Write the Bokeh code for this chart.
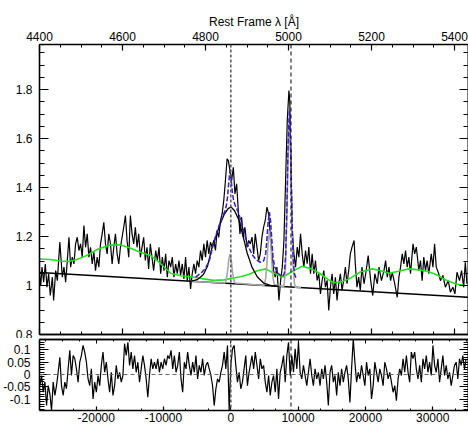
import numpy as np
from bokeh.plotting import figure
from bokeh.models import Range1d, LinearAxis, Span, FixedTicker
from bokeh.layouts import column
from bokeh.embed import file_html
from bokeh.resources import INLINE

FONT = "Liberation Sans"
C_KMS = 299792.458
V_REF = 4861.0
W0, W1 = 4400.0, 5433.7
F0, F1 = 0.8, 1.984
R0, R1 = -0.146, 0.142

# ---------------- data ----------------
spec_wave = [4400, 4403, 4406, 4410, 4414, 4418, 4422, 4426, 4431, 4434, 4439, 4443, 4449, 4455, 4459, 4463,
             4467, 4471, 4475, 4479, 4483, 4487, 4491, 4495, 4499, 4503, 4507, 4511, 4515, 4519, 4523, 4527,
             4531, 4535, 4539, 4543, 4547, 4551, 4555, 4559, 4563, 4567, 4571, 4575, 4579, 4583, 4587, 4591,
             4595, 4599, 4603, 4607, 4611, 4615, 4619, 4623, 4627, 4631, 4635, 4639, 4643, 4647, 4651, 4655,
             4659, 4663, 4667, 4671, 4675, 4680, 4684, 4688, 4692, 4696, 4700, 4704, 4708, 4712, 4716, 4720,
             4724, 4728, 4732, 4736, 4740, 4744, 4748, 4752, 4756, 4760, 4764, 4768, 4772, 4776, 4780, 4784,
             4788, 4792, 4796, 4800, 4804, 4808, 4812, 4816, 4820, 4824, 4828, 4832, 4836, 4840, 4844, 4848,
             4852, 4855, 4859, 4863, 4867, 4871, 4875, 4879, 4883, 4887, 4891, 4895, 4900, 4904,
             4908, 4912, 4916, 4920, 4924, 4928, 4932, 4936, 4940, 4944, 4948, 4952, 4956, 4960, 4964, 4968,
             4972, 4977, 4981, 4985, 4989, 4993, 4997, 5001, 5003, 5006, 5009, 5013, 5017, 5021, 5025, 5029,
             5033, 5037, 5041, 5045, 5049, 5053, 5057, 5061, 5065, 5069, 5073, 5077, 5081, 5085, 5089, 5093,
             5097, 5101, 5105, 5109, 5113, 5117, 5121, 5125, 5129, 5133, 5137, 5141, 5145, 5149, 5153, 5158,
             5161, 5165, 5169, 5173, 5177, 5182, 5186, 5192, 5198, 5203, 5208, 5214, 5218, 5224, 5230, 5234,
             5238, 5242, 5246, 5250, 5256, 5262, 5266, 5270, 5274, 5278, 5282, 5286, 5290, 5294, 5300, 5304,
             5308, 5314, 5318, 5322, 5326, 5330, 5334, 5338, 5344, 5348, 5352, 5356, 5362, 5366, 5372, 5378,
             5385, 5390, 5396, 5401, 5406, 5412, 5417, 5422, 5426, 5430]
spec_flux = [1.048, 1.000, 1.075, 1.014, 1.088, 0.993, 1.048, 0.959, 1.034, 0.939, 1.061, 1.020, 1.177, 1.034, 1.075, 1.014,
             1.102, 1.197, 1.075, 1.116, 1.088, 1.170, 1.197, 1.143, 1.170, 1.116, 1.245, 1.156, 1.211, 1.116, 1.156, 1.088,
             1.136, 1.061, 1.116, 1.075, 1.170, 1.211, 1.258, 1.170, 1.129, 1.211, 1.170, 1.088, 1.156, 1.211, 1.129, 1.088,
             1.156, 1.197, 1.238, 1.286, 1.184, 1.116, 1.286, 1.211, 1.170, 1.238, 1.156, 1.211, 1.116, 1.156, 1.197, 1.102,
             1.156, 1.068, 1.170, 1.116, 1.061, 1.143, 1.102, 1.156, 1.048, 1.116, 1.061, 1.129, 1.034, 1.102, 1.075, 1.116,
             1.034, 1.088, 1.048, 1.102, 1.041, 1.088, 1.027, 1.116, 1.020, 1.075, 0.986, 1.048, 1.088, 1.048, 1.102, 1.075,
             1.143, 1.102, 1.170, 1.116, 1.184, 1.129, 1.177, 1.156, 1.184, 1.143, 1.224, 1.197, 1.265, 1.292, 1.347, 1.428,
             1.517, 1.510, 1.469, 1.428, 1.483, 1.374, 1.415, 1.306, 1.211, 1.279, 1.197, 1.238, 1.156, 1.184,
             1.170, 1.198, 1.129, 1.211, 1.157, 1.102, 1.129, 1.198, 1.238, 1.266, 1.320, 1.293, 1.211, 1.129, 1.061, 1.034,
             1.075, 0.939, 1.021, 1.075, 1.184, 1.429, 1.674, 1.796, 1.755, 1.497, 1.225, 1.129, 1.075, 1.157, 1.116, 1.211,
             1.129, 1.075, 1.143, 1.089, 1.157, 1.048, 1.129, 1.048, 1.102, 1.021, 1.048, 0.966, 1.021, 1.061, 0.993, 1.021,
             0.898, 0.993, 1.048, 0.966, 1.034, 0.939, 1.007, 1.048, 0.980, 1.021, 1.075, 1.007, 1.061, 1.129, 1.157, 1.184,
             1.088, 0.993, 1.034, 0.980, 1.075, 1.007, 1.048, 1.122, 1.020, 0.959, 1.048, 1.007, 1.075, 1.020, 1.061, 1.102,
             1.034, 1.075, 1.020, 1.054, 1.007, 0.952, 1.034, 1.075, 1.129, 1.088, 1.143, 1.075, 1.116, 1.048, 1.170, 1.129,
             1.157, 1.061, 1.102, 1.020, 1.116, 1.061, 1.102, 1.048, 1.129, 1.075, 1.170, 1.075, 1.048, 1.020, 1.041, 0.993,
             1.020, 0.973, 0.993, 0.966, 1.054, 1.020, 1.061, 0.993, 1.095, 1.007]

cont_wave = [4400, 5434]
cont_flux = [1.053, 0.952]

feii_wave = [4400, 4425, 4450, 4470, 4490, 4513, 4540, 4569, 4593, 4615, 4640, 4667, 4690, 4716, 4740, 4770,
             4795, 4820, 4845, 4865, 4885, 4905, 4925, 4945, 4965, 4987, 5010, 5033, 5055, 5075, 5095, 5110,
             5130, 5150, 5173, 5202, 5222, 5242, 5265, 5290, 5315, 5338, 5355, 5370, 5385, 5402, 5420, 5434]
feii_flux = [1.108, 1.106, 1.100, 1.098, 1.106, 1.122, 1.148, 1.165, 1.166, 1.155, 1.138, 1.123, 1.092, 1.050, 1.040, 1.035,
             1.027, 1.021, 1.023, 1.030, 1.036, 1.046, 1.060, 1.068, 1.050, 1.035, 1.058, 1.079, 1.068, 1.050, 1.025, 1.011,
             1.016, 1.031, 1.055, 1.068, 1.060, 1.050, 1.058, 1.068, 1.064, 1.056, 1.045, 1.031, 1.018, 1.007, 1.001, 1.000]

narrow_wave = [4764, 4847, 4850, 4853, 4856, 4859, 4862, 4865, 4868, 4871, 4940, 4942, 4945, 4948, 4951, 4954,
               4957, 4960, 4963, 4966, 4988, 4990, 4993, 4996, 4999, 5002, 5005, 5008, 5011, 5014, 5016, 5030]
narrow_flux = [1.017, 1.010, 1.024, 1.057, 1.104, 1.128, 1.104, 1.057, 1.024, 1.010, 1.000, 1.005, 1.029, 1.090, 1.177, 1.222,
               1.177, 1.090, 1.028, 1.004, 0.995, 1.013, 1.086, 1.273, 1.538, 1.674, 1.538, 1.273, 1.086, 1.013, 0.993, 0.991]

broad_wave = [4764, 4780, 4795, 4805, 4815, 4825, 4835, 4845, 4855, 4862, 4870, 4880, 4890, 4900, 4912, 4925,
              4940, 4960, 4976]
broad_flux = [1.017, 1.024, 1.045, 1.080, 1.150, 1.200, 1.250, 1.290, 1.315, 1.320, 1.305, 1.270, 1.205, 1.135, 1.075, 1.035,
              1.010, 0.999, 0.997]

model_wave = [4776, 4790, 4800, 4810, 4820, 4830, 4840, 4847, 4850, 4853, 4856, 4859, 4862, 4865, 4868, 4872,
              4880, 4890, 4900, 4912, 4922, 4932, 4940, 4945, 4948, 4951, 4954, 4957, 4960, 4963, 4967, 4975,
              4985, 4990, 4993, 4996, 4999, 5002, 5005, 5008, 5011, 5014, 5018]
model_flux = [1.034, 1.052, 1.070, 1.106, 1.178, 1.232, 1.278, 1.305, 1.325, 1.360, 1.420, 1.470, 1.430, 1.375, 1.345, 1.325,
              1.295, 1.235, 1.173, 1.127, 1.105, 1.095, 1.100, 1.130, 1.190, 1.260, 1.300, 1.260, 1.180, 1.110, 1.075, 1.050,
              1.035, 1.050, 1.120, 1.310, 1.580, 1.715, 1.580, 1.310, 1.120, 1.050, 1.030]

line_centres = [4861, 5006]

resid_wave = [4401, 4405, 4409, 4413, 4417, 4421, 4425, 4429, 4433, 4437,
              4441, 4445, 4449, 4453, 4457, 4461, 4465, 4469, 4473, 4477,
              4481, 4485, 4489, 4493, 4497, 4501, 4505, 4509, 4513, 4517,
              4521, 4525, 4529, 4533, 4537, 4541, 4545, 4549, 4553, 4557,
              4561, 4565, 4569, 4573, 4577, 4581, 4585, 4589, 4593, 4597,
              4601, 4605, 4609, 4613, 4617, 4621, 4625, 4629, 4633, 4637,
              4641, 4645, 4649, 4653, 4657, 4661, 4665, 4669, 4673, 4677,
              4681, 4685, 4689, 4693, 4697, 4701, 4705, 4709, 4713, 4717,
              4721, 4725, 4729, 4733, 4737, 4741, 4745, 4749, 4753, 4757,
              4761, 4765, 4769, 4773, 4777, 4781, 4785, 4789, 4793, 4797,
              4801, 4805, 4809, 4813, 4817, 4821, 4825, 4829, 4833, 4837,
              4841, 4845, 4849, 4853, 4857, 4861, 4865, 4869, 4873, 4877,
              4881, 4885, 4889, 4893, 4897, 4901, 4905,
              4912, 4916, 4920, 4924, 4928, 4932, 4936, 4940, 4944, 4948,
              4952, 4956, 4960, 4964, 4968, 4972, 4976, 4980, 4984, 4988,
              4992, 4996, 5000, 5004, 5008, 5012, 5016, 5020, 5024, 5028,
              5032, 5036, 5040, 5044, 5048, 5052, 5056, 5060, 5064, 5068,
              5072, 5076, 5080, 5084, 5088, 5092, 5096, 5100, 5104, 5108,
              5112, 5116, 5120, 5124, 5128, 5132, 5136, 5140, 5144, 5148,
              5152, 5156, 5160, 5164, 5168, 5172, 5176, 5180, 5184, 5188,
              5192, 5196, 5200, 5204, 5208, 5212, 5216, 5220, 5224, 5228,
              5232, 5236, 5240, 5244, 5248, 5252, 5256, 5260, 5264, 5268,
              5272, 5276, 5280, 5284, 5288, 5292, 5296, 5300, 5304, 5308,
              5312, 5316, 5320, 5324, 5328, 5332, 5336, 5340, 5344, 5348,
              5352, 5356, 5360, 5364, 5368, 5372, 5376, 5380, 5384, 5388,
              5392, 5396, 5400, 5404, 5408, 5412, 5416, 5420, 5424, 5428]
resid_val = [-0.045, -0.004, -0.072, -0.031, -0.126, -0.045, -0.079, -0.146, -0.031, -0.085,
             -0.045, 0.009, 0.070, -0.045, -0.085, -0.031, -0.058, 0.023, 0.098, -0.004,
             0.077, 0.064, 0.023, -0.031, 0.050, 0.077, 0.118, 0.091, 0.050, -0.018,
             -0.045, 0.023, -0.099, -0.031, -0.072, -0.004, -0.045, 0.037, 0.091, 0.009,
             0.050, -0.018, -0.072, 0.009, -0.085, -0.045, 0.037, -0.018, 0.009, -0.031,
             -0.004, 0.125, 0.077, 0.131, 0.037, 0.091, 0.023, 0.077, 0.009, 0.050,
             -0.031, 0.023, 0.077, 0.037, -0.018, -0.092, -0.004, 0.064, 0.023, 0.050,
             0.023, 0.064, 0.009, 0.050, 0.023, 0.064, 0.037, 0.077, 0.064, 0.098,
             0.023, 0.077, 0.009, 0.037, 0.091, -0.018, -0.072, 0.050, 0.023, 0.091,
             0.037, -0.004, 0.050, 0.009, 0.077, -0.018, 0.037, 0.009, 0.064, -0.004,
             0.037, 0.050, 0.023, -0.004, -0.045, -0.126, -0.058, -0.018, -0.031, 0.009,
             0.037, 0.091, 0.023, 0.118, -0.146, 0.037, 0.104, 0.118, 0.037, -0.031,
             0.009, -0.058, -0.031, 0.023, 0.077, -0.045, 0.009,
             0.077, 0.023, 0.091, 0.037, -0.018, 0.064, 0.023, 0.037, -0.031, -0.072,
             -0.004, -0.085, -0.031, -0.004, -0.072, 0.023, -0.099, 0.009, 0.037, 0.077,
             -0.031, 0.077, 0.131, -0.004, 0.077, 0.009, 0.104, 0.023, 0.131, 0.009,
             -0.018, 0.037, -0.004, -0.045, 0.009, 0.064, -0.004, -0.045, 0.023, -0.018,
             0.009, -0.045, 0.023, -0.018, 0.037, -0.031, -0.126, 0.009, 0.037, -0.031,
             -0.004, -0.085, 0.009, -0.045, 0.023, -0.031, 0.009, 0.037, -0.018, -0.113,
             0.023, 0.145, 0.050, -0.031, 0.009, -0.018, 0.037, -0.004, -0.045, 0.050,
             -0.004, 0.023, -0.099, -0.045, 0.050, 0.009, -0.031, 0.023, -0.004, -0.045,
             0.050, 0.023, -0.018, 0.009, -0.031, -0.072, -0.045, -0.106, -0.018, 0.023,
             -0.004, 0.064, 0.009, 0.077, 0.009, -0.031, 0.091, 0.064, 0.091, 0.023,
             -0.018, 0.037, -0.031, 0.064, 0.023, 0.077, 0.009, 0.050, -0.004, 0.118,
             0.037, 0.009, 0.064, -0.031, 0.023, 0.077, -0.004, 0.037, -0.018, 0.009,
             -0.045, -0.004, 0.037, 0.050, -0.018, 0.064, 0.037, 0.077, 0.023, 0.064]

wave_ticks = [4400, 4600, 4800, 5000, 5200, 5400]
flux_ticks = [0.8, 1.0, 1.2, 1.4, 1.6, 1.8]
flux_labels = ["0.8", "1", "1.2", "1.4", "1.6", "1.8"]
resid_ticks = [-0.1, -0.05, 0.0, 0.05, 0.1]
resid_labels = ["-0.1", "-0.05", "0", "0.05", "0.1"]
vel_ticks = [-20000, -10000, 0, 10000, 20000, 30000]
vel_labels = ["-20000", "-10000", "0", "10000", "20000", "30000"]


def vel(w):
    return C_KMS * (w / V_REF - 1.0)


def base_style(ax):
    ax.axis_line_color = "black"
    ax.axis_line_width = 1.6
    ax.major_tick_out = 0
    ax.minor_tick_out = 0
    ax.major_tick_line_color = "black"
    ax.minor_tick_line_color = "black"
    ax.major_tick_line_width = 1.2
    ax.minor_tick_line_width = 1.0


def labelled_axis(p, side, ticks, minor, labels, tin, tmin, size="12px", standoff=4, range_name=None):
    kw = {"x_range_name": range_name} if range_name else {}
    ax = LinearAxis(ticker=FixedTicker(ticks=ticks, minor_ticks=minor), **kw)
    base_style(ax)
    ax.major_tick_in = tin
    ax.minor_tick_in = tmin
    ax.major_label_overrides = dict(zip(ticks, labels))
    ax.major_label_text_font = FONT
    ax.major_label_text_font_size = size
    ax.major_label_text_color = "black"
    ax.major_label_standoff = standoff
    p.add_layout(ax, side)
    return ax


def tick_only_axis(p, side, positions, length, range_name=None):
    # an axis without major ticks (hence without labels): its minor ticks carry the marks
    kw = {"x_range_name": range_name} if range_name else {}
    ax = LinearAxis(ticker=FixedTicker(ticks=[], minor_ticks=positions), **kw)
    base_style(ax)
    ax.major_tick_in = 0
    ax.minor_tick_in = length
    ax.minor_tick_line_width = 1.2 if length > 4 else 1.0
    ax.major_label_standoff = 0
    p.add_layout(ax, side)
    return ax


wave_minor = list(np.arange(4400, 5451, 50))
flux_minor = list(np.round(np.arange(0.8, 2.0, 0.05), 3))
resid_minor = list(np.round(np.arange(-0.15, 0.151, 0.01), 3))
vel_minor_top = list(np.arange(-30000, 40001, 2500))
vel_minor_bot = list(np.arange(-30000, 40001, 10000 / 3))

# ---------------- upper panel ----------------
p1 = figure(width=468, height=338, x_range=Range1d(W0, W1), y_range=Range1d(F0, F1),
            output_backend="svg", toolbar_location=None, x_axis_location=None, y_axis_location=None,
            min_border_left=39, min_border_right=0, min_border_top=44, min_border_bottom=4,
            background_fill_color="white", border_fill_color="white", outline_line_color=None)
p1.grid.visible = False

top = labelled_axis(p1, "above", wave_ticks, wave_minor, [str(t) for t in wave_ticks], 6, 3, standoff=4)
top.axis_label = "Rest Frame λ [Å]"
top.axis_label_text_font = FONT
top.axis_label_text_font_size = "12px"
top.axis_label_text_font_style = "normal"
top.axis_label_text_color = "black"
top.axis_label_standoff = 0

tick_only_axis(p1, "below", wave_ticks, 6)
tick_only_axis(p1, "below", wave_minor, 3)
labelled_axis(p1, "left", flux_ticks, flux_minor, flux_labels, 9, 5, standoff=7)
tick_only_axis(p1, "right", flux_ticks, 9)
tick_only_axis(p1, "right", flux_minor, 5)

p1.line(spec_wave, spec_flux, line_color="black", line_width=1.2)
p1.line(cont_wave, cont_flux, line_color="black", line_width=1.6)
p1.line(feii_wave, feii_flux, line_color="#22e022", line_width=1.6)
p1.line(narrow_wave, narrow_flux, line_color="#a8a8a8", line_width=1.6)
p1.line(broad_wave, broad_flux, line_color="black", line_width=1.3)
p1.line(model_wave, model_flux, line_color="#3a1fc8", line_width=1.5, line_dash="5 2")

p1.add_layout(Span(location=line_centres[0], dimension="height", line_color="#555555",
                   line_width=1.5, line_dash="3 2"))
p1.add_layout(Span(location=line_centres[1], dimension="height", line_color="black",
                   line_width=1.0, line_dash="4 3"))

# ---------------- residual panel ----------------
p2 = figure(width=468, height=88, x_range=p1.x_range, y_range=Range1d(R0, R1),
            output_backend="svg", toolbar_location=None, x_axis_location=None, y_axis_location=None,
            min_border_left=39, min_border_right=0, min_border_top=1, min_border_bottom=16,
            background_fill_color="white", border_fill_color="white", outline_line_color=None)
p2.grid.visible = False
p2.extra_x_ranges = {"vel": Range1d(vel(W0), vel(W1))}

tick_only_axis(p2, "above", vel_ticks, 4, range_name="vel")
tick_only_axis(p2, "above", vel_minor_top, 2, range_name="vel")
labelled_axis(p2, "below", vel_ticks, vel_minor_bot, vel_labels, 4, 2, standoff=2, range_name="vel")
labelled_axis(p2, "left", resid_ticks, resid_minor, resid_labels, 9, 5, size="12px", standoff=9)
tick_only_axis(p2, "right", resid_ticks, 9)
tick_only_axis(p2, "right", resid_minor, 5)

p2.add_layout(Span(location=0, dimension="width", line_color="#666666", line_width=1.0, line_dash="4 3"))
p2.add_layout(Span(location=line_centres[0], dimension="height", line_color="#555555",
                   line_width=1.5, line_dash="3 2"))
p2.add_layout(Span(location=line_centres[1], dimension="height", line_color="black",
                   line_width=1.0, line_dash="4 3"))
p2.line(resid_wave, resid_val, line_color="black", line_width=1.2)

layout = column(p1, p2, spacing=0)
with open("out.html", "w") as f:
    f.write(file_html(layout, INLINE))
